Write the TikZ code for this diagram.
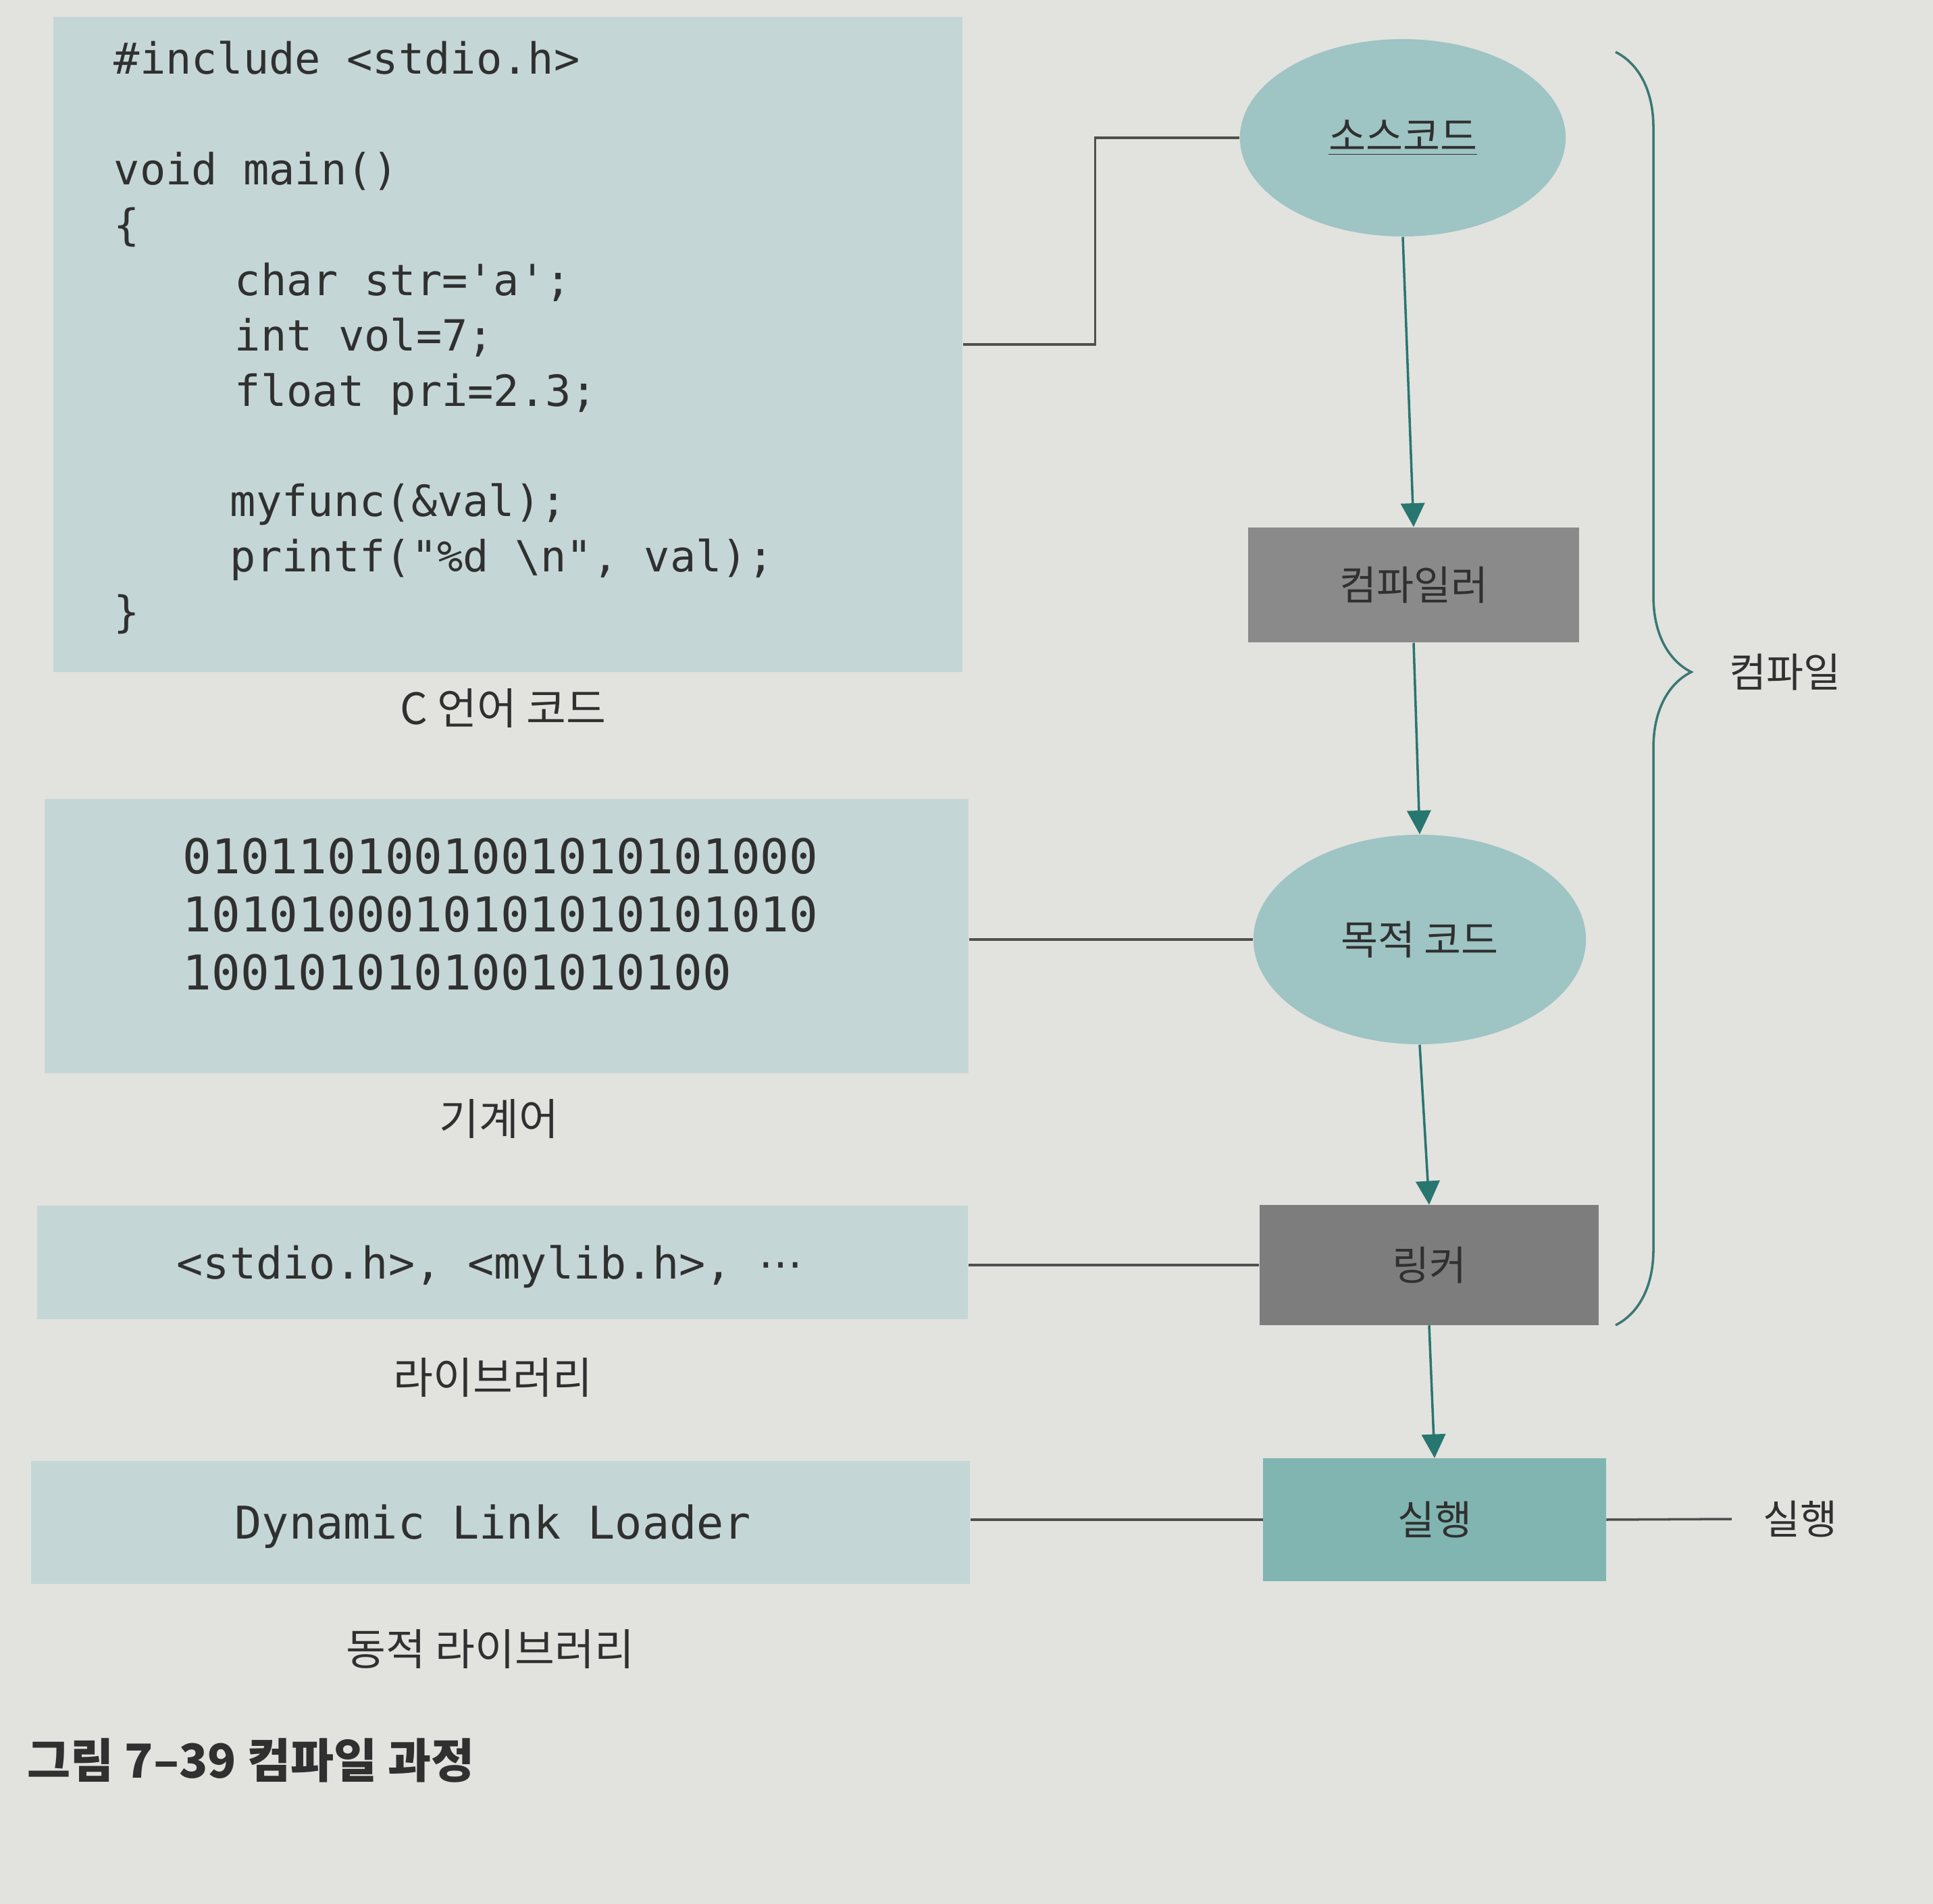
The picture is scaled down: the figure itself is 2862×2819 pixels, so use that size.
\documentclass[tikz,border=0pt]{standalone}
\usepackage{fontspec}
\setmainfont{Noto Sans CJK KR}
\setmonofont{DejaVu Sans Mono}
\newfontfamily\symfont{DejaVu Sans}
\usetikzlibrary{arrows.meta,decorations.pathreplacing}

\definecolor{paper}{RGB}{226,226,223}
\definecolor{codebg}{RGB}{197,214,214}
\definecolor{ovalfill}{RGB}{158,196,196}
\definecolor{toolgray}{RGB}{138,138,138}
\definecolor{linkgray}{RGB}{125,125,125}
\definecolor{runteal}{RGB}{128,181,177}
\definecolor{flow}{RGB}{40,118,112}
\definecolor{ink}{RGB}{48,48,48}

\tikzset{
  panel/.style={fill=codebg, draw=none, inner sep=0},
  stagebox/.style={draw=none, inner sep=0, text=ink, font=\fontsize{17}{20}\selectfont},
  stageoval/.style={ellipse, fill=ovalfill, draw=none, inner sep=0, text=ink, font=\fontsize{17}{20}\selectfont},
  caption/.style={text=ink, inner sep=0, font=\fontsize{18.2}{21}\selectfont},
  flowarrow/.style={draw=flow, line width=1pt, -{Triangle[length=10pt,width=10pt]}},
  conn/.style={draw=ink!85, line width=1pt}
}
\usetikzlibrary{shapes.geometric}

\begin{document}
\begin{tikzpicture}[x=0.01cm, y=-0.01cm]
	\fill[paper] (0,0) rectangle (2862,2819); % Draw the page
	\useasboundingbox (0,0) rectangle (2862,2819);

	% left column
	\node[panel, minimum width=13.45cm, minimum height=9.7cm] (code) at (752,510) {}; % Draw the C code box
	\node[anchor=north west, inner sep=0, align=left, text=ink, font=\fontsize{18.1}{23.3}\selectfont\ttfamily] (codetext) at (168,60) {%
\#include <stdio.h>\\
~\\
void main()\\
\{\\
\hspace*{1.79cm}char str='a';\\
\hspace*{1.79cm}int vol=7;\\
\hspace*{1.79cm}float pri=2.3;\\
~\\
\hspace*{1.72cm}myfunc(\&val);\\
\hspace*{1.72cm}printf("\%d \textbackslash n", val);\\
\}};
	\node[caption] (codelbl) at (745,1049) {C 언어 코드};

	\node[panel, minimum width=13.67cm, minimum height=4.05cm] (mach) at (750,1386) {}; % Draw the machine code box
	\node[anchor=north west, inner sep=0, align=left, text=ink, font=\fontsize{20.2}{24.4}\selectfont\ttfamily] (bits) at (270,1240) {%
0101101001001010101000\\
1010100010101010101010\\
1001010101001010100};
	\node[caption] (machlbl) at (739,1657) {기계어};

	\node[panel, minimum width=13.78cm, minimum height=1.68cm] (lib) at (744,1869) {}; % Draw the library box
	\node[anchor=west, inner sep=0, text=ink, font=\fontsize{18.5}{22}\selectfont\ttfamily] (libtext) at (261,1875) {<stdio.h>, <mylib.h>, {\symfont ⋯}};
	\node[caption] (liblbl) at (730,2040) {라이브러리};

	\node[panel, minimum width=13.9cm, minimum height=1.82cm] (dll) at (741,2254) {}; % Draw the dynamic library box
	\node[anchor=west, inner sep=0, text=ink, font=\fontsize{19}{22}\selectfont\ttfamily] (dlltext) at (347,2260) {Dynamic Link Loader};
	\node[caption] (dlllbl) at (726,2442) {동적 라이브러리};

	% right column
	\node[stageoval, minimum width=4.82cm, minimum height=2.92cm] (src) at (2077,204) {\underline{소스코드}}; % Draw the source oval
	\node[stagebox, fill=toolgray, minimum width=4.89cm, minimum height=1.70cm] (comp) at (2093,866) {컴파일러}; % Draw the compiler box
	\node[stageoval, minimum width=4.92cm, minimum height=3.10cm] (obj) at (2102,1391) {목적 코드}; % Draw the object oval
	\node[stagebox, fill=linkgray, minimum width=5.02cm, minimum height=1.77cm] (link) at (2116,1873) {링커}; % Draw the linker box
	\node[stagebox, fill=runteal, minimum width=5.07cm, minimum height=1.81cm] (run) at (2124,2250) {실행}; % Draw the run box

	\draw[flowarrow] (src.south) -- (comp.north); % Draw the compile arrow
	\draw[flowarrow] (comp.south) -- (obj.north);
	\draw[flowarrow] (obj.south) -- (link.north);
	\draw[flowarrow] (link.south) -- (run.north);

	\draw[conn] (code.east) -- ++(196,0) |- (src.west); % Draw the code connector
	\draw[conn] (obj.west -| mach.east) -- (obj.west);
	\draw[conn] (link.west -| lib.east) -- (link.west);
	\draw[conn] (run.west -| dll.east) -- (run.west);

	\node[anchor=west, inner sep=0, text=ink, font=\fontsize{17}{20}\selectfont] (runlbl) at (2610,2249) {실행};
	\draw[conn] (run.east) -- ([xshift=-0.46cm]runlbl.west); % Draw the run label line

	\draw[draw=flow!80!gray, line width=1pt, decorate, decoration={brace, amplitude=1.12cm, aspect=0.487}] (2392,77) -- (2392,1962); % Draw the compile brace
	\node[anchor=west, inner sep=0, text=ink, font=\fontsize{17}{20}\selectfont] (complbl) at (2560,995) {컴파일};

	\node[anchor=west, inner sep=0, text=ink, font=\fontsize{19.8}{23}\selectfont\bfseries] (fig) at (40,2606) {그림 7–39 컴파일 과정}; % Draw the caption
\end{tikzpicture}
\end{document}
